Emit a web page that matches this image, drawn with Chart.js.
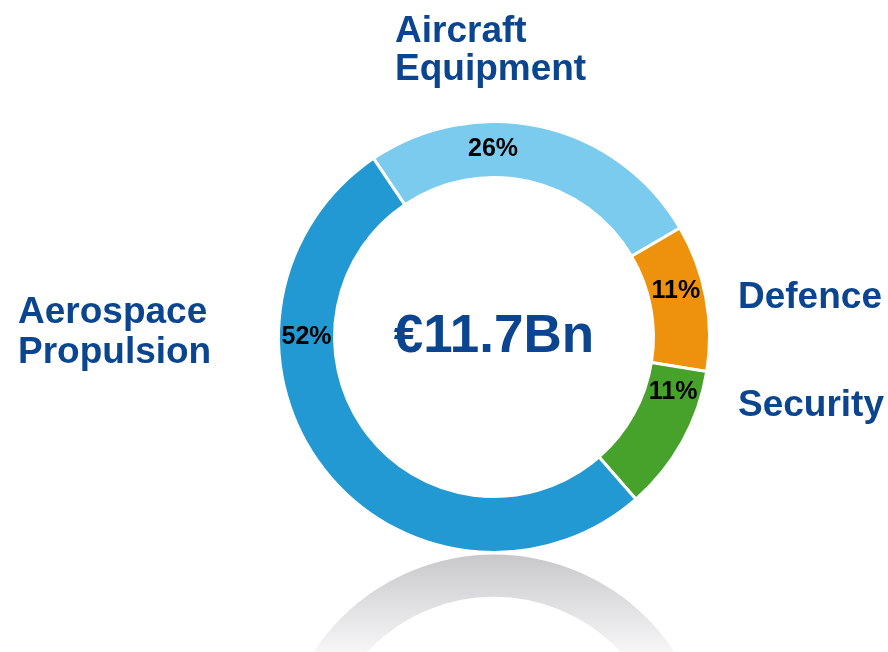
<!DOCTYPE html>
<html>
<head>
<meta charset="utf-8">
<script src="https://cdn.jsdelivr.net/npm/chart.js@4/dist/chart.umd.min.js"></script>
<style>
  html, body { margin: 0; padding: 0; background: #ffffff; }
  #wrap { width: 888px; height: 652px; }
</style>
</head>
<body>
<div id="wrap"><canvas id="segmentChart" width="888" height="652"></canvas></div>
<script>
// ==================================================
// 1. DADOS
// ==================================================
const categories = ['Aircraft Equipment', 'Defence', 'Security', 'Aerospace Propulsion'];
const shares = [26, 11, 11, 52];
const shareLabels = ['26%', '11%', '11%', '52%'];
const totalLabel = '€11.7Bn';

// ==================================================
// 2. ESTILO
// ==================================================
const sliceColors = ['#7acbee', '#ee920e', '#47a22c', '#2299d2'];
const titleBlue = '#0b4590';
const boldFont = '"Liberation Sans", Arial, sans-serif';
// where along each slice the % label sits (0 = start, 1 = end)
const labelAlong = [0.36, 0.41, 0.2, 0.70];
// outside category label blocks: [x, firstBaseline, lineGap, lines]
const categoryBlocks = [
    [395, 42, 38, ['Aircraft', 'Equipment']],
    [738, 308, 0, ['Defence']],
    [738, 416, 0, ['Security']],
    [18, 323, 40, ['Aerospace', 'Propulsion']]
];

// ==================================================
// 3. PLUGINS
// ==================================================
const reflectionPlugin = {
    id: 'reflection',
    beforeDatasetsDraw(chart) {
        const arc = chart.getDatasetMeta(0).data[0];
        if (!arc) return;
        const ctx = chart.ctx;
        const R = arc.outerRadius;
        const rc = arc.y + 2 * R + 2;
        const innerR = R * 0.804;
        const grad = ctx.createLinearGradient(0, rc - R, 0, chart.height);
        grad.addColorStop(0, 'rgba(200,200,203,1)');
        grad.addColorStop(1, 'rgba(246,246,247,1)');
        ctx.save();
        ctx.beginPath();
        ctx.arc(arc.x, rc, R, 0, Math.PI * 2);
        ctx.arc(arc.x, rc, innerR, 0, Math.PI * 2, true);
        ctx.fillStyle = grad;
        ctx.fill('evenodd');
        ctx.restore();
    }
};

const labelsPlugin = {
    id: 'segmentLabels',
    afterDraw(chart) {
        const ctx = chart.ctx;
        const meta = chart.getDatasetMeta(0);
        ctx.save();
        // percentages on the ring
        ctx.font = 'bold 25px ' + boldFont;
        ctx.fillStyle = '#000000';
        ctx.textAlign = 'center';
        ctx.textBaseline = 'middle';
        meta.data.forEach((arc, i) => {
            const a = arc.startAngle + (arc.endAngle - arc.startAngle) * labelAlong[i];
            const r = (arc.innerRadius + arc.outerRadius) / 2;
            ctx.fillText(shareLabels[i], arc.x + Math.cos(a) * r, arc.y + Math.sin(a) * r);
        });
        // total in the middle
        const c = meta.data[0];
        ctx.font = 'bold 53px ' + boldFont;
        ctx.fillStyle = titleBlue;
        ctx.textBaseline = 'alphabetic';
        ctx.fillText(totalLabel, c.x, c.y + 15);
        // category names
        ctx.font = 'bold 37px ' + boldFont;
        ctx.textAlign = 'left';
        categoryBlocks.forEach(([x, y, gap, lines]) => {
            lines.forEach((line, k) => ctx.fillText(line, x, y + k * gap));
        });
        ctx.restore();
    }
};

// ==================================================
// 4. GRÁFICO
// ==================================================
const segmentChart = new Chart(document.getElementById('segmentChart'), {
    type: 'doughnut',
    data: {
        labels: categories,
        datasets: [{
            data: shares,
            backgroundColor: sliceColors,
            borderColor: '#ffffff',
            borderWidth: 3
        }]
    },
    options: {
        responsive: false,
        animation: false,
        rotation: -34,
        cutout: '74%',
        layout: { padding: { left: 277, top: 120, right: 177, bottom: 98 } },
        plugins: {
            legend: { display: false },
            tooltip: { enabled: false },
            title: { display: false }
        }
    },
    plugins: [reflectionPlugin, labelsPlugin]
});
</script>
</body>
</html>
